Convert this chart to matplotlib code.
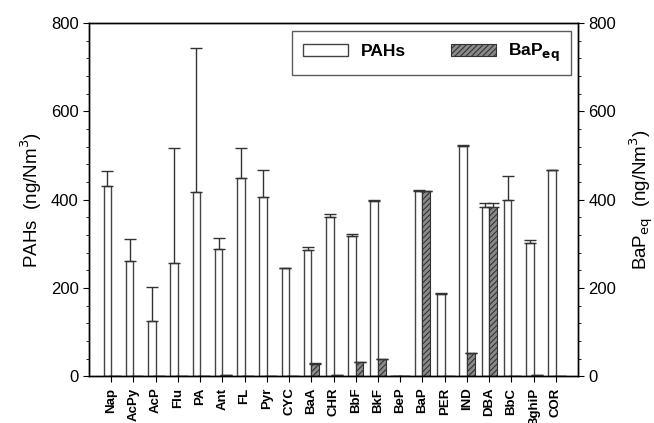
import numpy as np
import matplotlib
matplotlib.use("Agg")
import matplotlib.pyplot as plt
from matplotlib.ticker import MultipleLocator

plt.rcParams['font.family'] = ['Liberation Sans', 'DejaVu Sans']
plt.rcParams['hatch.linewidth'] = 0.8

# compounds
compounds = ["Nap", "AcPy", "AcP", "Flu", "PA", "Ant", "FL", "Pyr", "CYC", "BaA", "CHR",
             "BbF", "BkF", "BeP", "BaP", "PER", "IND", "DBA", "BbC", "BghiP", "COR"]

# PAH concentrations and upper error (ng/Nm3)
pahs = [431, 262, 125, 256, 418, 289, 448, 405, 245, 286, 360,
        318, 396, 0, 420, 187, 522, 384, 399, 301, 466]
pahs_err = [34, 48, 78, 261, 326, 24, 69, 62, 1, 8, 8,
            4, 3, 0, 1, 1, 1, 8, 55, 8, 1]

# BaP equivalent concentrations (ng/Nm3)
bapeq = [0.4, 0.3, 0.1, 0.3, 0.4, 2.9, 0.4, 0.4, 0, 28.6, 3.6,
         31.8, 39.6, 0, 420, 0, 52.2, 384, 0, 3.0, 0]
bapeq_err = [0, 0, 0, 0, 0, 0.3, 0, 0, 0, 0.8, 0.1,
             0.4, 0.3, 0, 0, 0, 0.5, 8, 0, 0.1, 0]

x = np.arange(len(compounds))
w = 0.34

fig = plt.figure(figsize=(6.54, 4.23), dpi=100)
ax = fig.add_axes([0.136, 0.110, 0.748, 0.836])

ax.bar(x - w / 2, pahs, w, color='white', edgecolor='#444444', linewidth=1.0,
       label='PAHs', zorder=2)
ax.errorbar(x - w / 2, pahs, yerr=[np.zeros(len(pahs)), pahs_err], fmt='none',
            ecolor='#333333', elinewidth=1.0, capsize=4, capthick=1.0, zorder=3)

ax.bar(x + w / 2, bapeq, w, color='#8a8a8a', edgecolor='#333333', linewidth=0.8,
       hatch='//////', label='BaP$_{\\mathbf{eq}}$', zorder=2)
ax.errorbar(x + w / 2, bapeq, yerr=[np.zeros(len(bapeq)), bapeq_err], fmt='none',
            ecolor='#333333', elinewidth=1.0, capsize=4, capthick=1.0, zorder=3)

ax.set_xlim(-1, len(compounds))
ax.set_ylim(0, 800)
ax.set_xticks(x)
ax.set_xticklabels(compounds, rotation=90, fontsize=9.5, fontweight='bold')
ax.yaxis.set_major_locator(MultipleLocator(200))
ax.yaxis.set_minor_locator(MultipleLocator(40))
ax.tick_params(axis='y', which='major', length=4, labelsize=12)
ax.tick_params(axis='y', which='minor', length=2.5)
ax.tick_params(axis='x', length=4, pad=4)
ax.set_ylabel('PAHs  (ng/Nm$^3$)', fontsize=13.5, labelpad=5)

ax2 = ax.twinx()
ax2.set_ylim(0, 800)
ax2.yaxis.set_major_locator(MultipleLocator(200))
ax2.yaxis.set_minor_locator(MultipleLocator(40))
ax2.tick_params(axis='y', which='major', length=4, labelsize=12)
ax2.tick_params(axis='y', which='minor', length=2.5)
ax2.set_ylabel('BaP$_{\\mathrm{eq}}$  (ng/Nm$^3$)', fontsize=13.5, labelpad=8)

leg = ax.legend(loc='upper right', bbox_to_anchor=(0.986, 0.978), ncol=2,
                prop={'weight': 'bold', 'size': 12.5}, frameon=True, fancybox=False,
                edgecolor='#333333', handlelength=2.6, handleheight=0.7,
                handletextpad=0.7, columnspacing=2.6, borderpad=0.65,
                borderaxespad=0)
leg.get_frame().set_linewidth(1.0)

for sp in list(ax.spines.values()) + list(ax2.spines.values()):
    sp.set_linewidth(1.0)

fig.savefig('out.png', dpi=100)
